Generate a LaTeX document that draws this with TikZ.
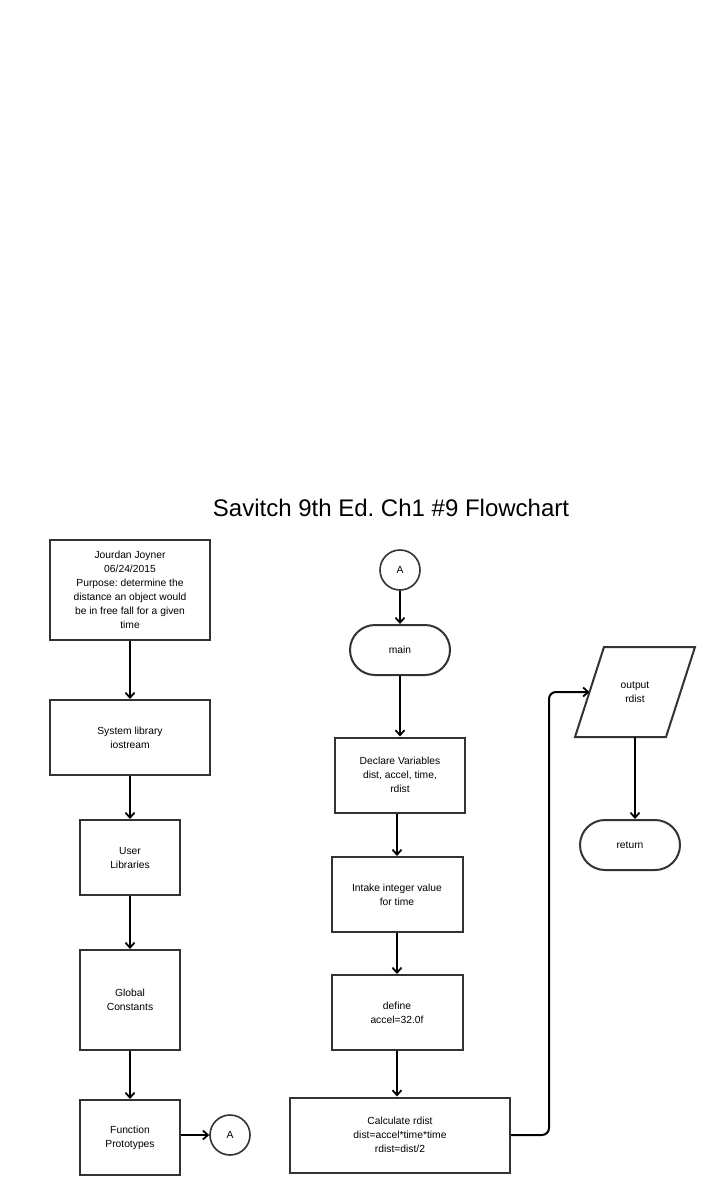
\documentclass[tikz,border=0pt]{standalone}
\usepackage{fontspec}
\setmainfont{Liberation Sans}
\usetikzlibrary{arrows.meta}
\begin{document}
\frenchspacing
\begin{tikzpicture}[x=1pt,y=-1pt,
  every node/.style={font=\fontsize{10.3}{14}\selectfont, align=center, inner sep=0pt},
  box/.style={draw=black!80, line width=2pt, rectangle},
  term/.style={draw=black!80, line width=2pt, rectangle, rounded corners=25pt, minimum width=100pt, minimum height=50pt},
  conn/.style={draw=black!80, line width=1.6pt, circle, minimum size=40pt},
  flow/.style={draw=black, line width=2pt, -{Straight Barb[length=5pt,width=9pt,line width=1.8pt]}}
]
\useasboundingbox (0,0) rectangle (706,1195);
\fill[white] (0,0) rectangle (706,1195);

\node[font=\fontsize{24}{28}\selectfont] (title) at (391,508) {Savitch 9th Ed.\ Ch1 \#9 Flowchart};

% left column
\node[box, minimum width=160pt, minimum height=100pt] (b1) at (130,590)
  {Jourdan Joyner\\06/24/2015\\Purpose: determine the\\distance an object would\\be in free fall for a given\\time};
\node[box, minimum width=160pt, minimum height=75pt] (b2) at (130,737.5) {System library\\iostream};
\node[box, minimum width=100pt, minimum height=75pt] (b3) at (130,857.5) {User\\Libraries};
\node[box, minimum width=100pt, minimum height=100pt] (b4) at (130,1000) {Global\\Constants};
\node[box, minimum width=100pt, minimum height=75pt] (b5) at (130,1137.5) {Function\\Prototypes};
\node[conn] (cA1) at (230,1135) {A};

% middle column
\node[conn] (cA2) at (400,570) {A};
\node[term] (main) at (400,650) {main};
\node[box, minimum width=130pt, minimum height=75pt] (decl) at (400,775) {Declare Variables\\dist, accel, time,\\rdist};
\node[box, minimum width=131pt, minimum height=75pt] (intake) at (397,894.5) {Intake integer value\\for time};
\node[box, minimum width=131pt, minimum height=75pt] (define) at (397,1012.5) {define\\accel=32.0f};
\node[box, minimum width=220pt, minimum height=75pt] (calc) at (400,1135) {Calculate rdist\\dist=accel*time*time\\rdist=dist/2};

% right column
\draw[draw=black!80, line width=2pt] (575,737) -- (604,647) -- (695,647) -- (666,737) -- cycle;
\node (out) at (635,692) {output\\rdist};
\coordinate (outL) at (589.5,692);
\coordinate (outB) at (635,737);
\node[term] (ret) at (630,845) {return};

% connectors
\draw[flow] (b1) -- (b2);
\draw[flow] (b2) -- (b3);
\draw[flow] (b3) -- (b4);
\draw[flow] (b4) -- (b5);
\draw[flow] (b5.east |- cA1) -- (cA1);
\draw[flow] (cA2) -- (main);
\draw[flow] (main) -- (decl);
\draw[flow] (decl.south -| intake) -- (intake);
\draw[flow] (intake) -- (define);
\draw[flow] (define) -- (define |- calc.north);
\draw[flow, rounded corners=7pt] (calc.east) -- (549,1135) -- (549,692) -- (outL);
\draw[flow] (outB) -- (outB |- ret.north);
\end{tikzpicture}
\end{document}
